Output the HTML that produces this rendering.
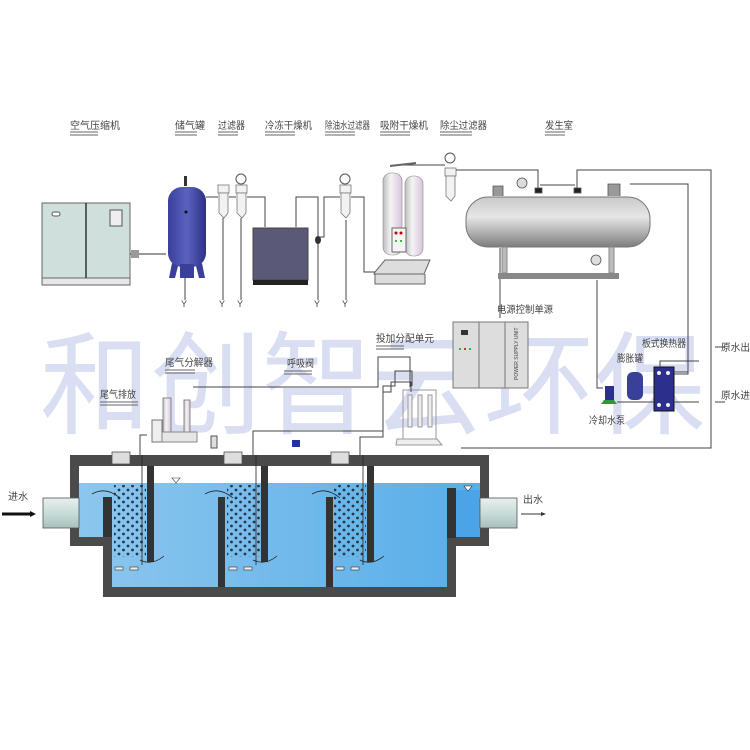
<!DOCTYPE html>
<html><head><meta charset="utf-8"><style>
html,body{margin:0;padding:0;background:#fff;}
svg{display:block;}
text{font-family:"Liberation Sans","Noto Sans CJK SC",sans-serif;fill:#444;}
</style></head><body>
<svg width="750" height="750" viewBox="0 0 750 750" xmlns="http://www.w3.org/2000/svg">
<defs>
<linearGradient id="tankg" x1="0" y1="0" x2="0" y2="1"><stop offset="0" stop-color="#c9c9c9"/><stop offset="0.4" stop-color="#e6e6e6"/><stop offset="1" stop-color="#7d7d7d"/></linearGradient>
<linearGradient id="blueT" x1="0" y1="0" x2="1" y2="0"><stop offset="0" stop-color="#3a3f9a"/><stop offset="0.5" stop-color="#5a62c0"/><stop offset="1" stop-color="#2d3180"/></linearGradient>
<linearGradient id="col" x1="0" y1="0" x2="1" y2="0"><stop offset="0" stop-color="#bdbdbd"/><stop offset="0.4" stop-color="#f4f4f4"/><stop offset="1" stop-color="#d8c4dc"/></linearGradient>
<linearGradient id="water" x1="0" y1="0" x2="1" y2="0"><stop offset="0" stop-color="#8cc6ee"/><stop offset="1" stop-color="#58aee8"/></linearGradient>
<linearGradient id="pipe" x1="0" y1="0" x2="0" y2="1"><stop offset="0" stop-color="#e8f0ee"/><stop offset="0.5" stop-color="#c8dcd8"/><stop offset="1" stop-color="#a8c0bc"/></linearGradient>
<pattern id="bub" width="9" height="8" patternUnits="userSpaceOnUse"><circle cx="2" cy="2" r="1.4" fill="#24364a"/><circle cx="6.5" cy="6" r="1.4" fill="#24364a"/></pattern>
</defs>

<text x="40" y="425" font-size="112" style="fill:#d9def2" textLength="665" lengthAdjust="spacingAndGlyphs">和创智云环保</text>

<g font-size="10">
<text x="70" y="129" textLength="50" lengthAdjust="spacingAndGlyphs">空气压缩机</text>
<text x="175" y="129" textLength="30" lengthAdjust="spacingAndGlyphs">储气罐</text>
<text x="218" y="129" textLength="27" lengthAdjust="spacingAndGlyphs">过滤器</text>
<text x="265" y="129" textLength="47" lengthAdjust="spacingAndGlyphs">冷冻干燥机</text>
<text x="325" y="129" textLength="45" lengthAdjust="spacingAndGlyphs">除油水过滤器</text>
<text x="380" y="129" textLength="48" lengthAdjust="spacingAndGlyphs">吸附干燥机</text>
<text x="440" y="129" textLength="47" lengthAdjust="spacingAndGlyphs">除尘过滤器</text>
<text x="545" y="129" textLength="28" lengthAdjust="spacingAndGlyphs">发生室</text>
</g>
<g stroke="#666" stroke-width="1">
<path d="M70 132h28M70 135h28M175 132h22M175 135h22M218 132h20M218 135h20M265 132h30M265 135h30M325 132h30M325 135h30M380 132h30M380 135h30M440 132h32M440 135h32M545 132h20M545 135h20"/>
</g>

<rect x="42" y="203" width="88" height="75" fill="#cfe0dc" stroke="#666"/>
<rect x="42" y="278" width="88" height="7" fill="#e6e6e6" stroke="#666"/>
<line x1="86" y1="203" x2="86" y2="278" stroke="#333" stroke-width="1.5"/>
<rect x="52" y="212" width="8" height="4" rx="2" fill="#fff" stroke="#555"/>
<rect x="110" y="210" width="12" height="16" fill="#eee" stroke="#555"/>
<path d="M130 254h36" stroke="#333"/><rect x="131" y="250" width="8" height="8" fill="#999"/>

<rect x="168" y="187" width="38" height="80" rx="14" fill="url(#blueT)"/>
<path d="M172 263l-3 15h6l3-12M202 263l3 15h-6l-3-12M180 264h14v14h-14z" fill="#3a3f9a"/>
<rect x="184" y="176" width="3" height="10" fill="#333"/>
<circle cx="186" cy="212" r="1.5" fill="#111"/>

<g fill="#f2f2f2" stroke="#777" stroke-width="0.8">
<rect x="218" y="185" width="11" height="8"/><path d="M219 193h9v20l-4 5l-5-5z"/>
<rect x="236" y="185" width="11" height="8"/><path d="M237 193h9v20l-4 5l-5-5z"/>
<rect x="340" y="185" width="11" height="8"/><path d="M341 193h9v20l-4 5l-5-5z"/>
<rect x="445" y="168" width="11" height="8"/><path d="M446 176h9v20l-4 5l-5-5z"/>
</g>
<g fill="#fff" stroke="#555"><circle cx="241" cy="179" r="5"/><circle cx="345" cy="179" r="5"/><circle cx="450" cy="158" r="5"/></g>
<g stroke="#444" fill="none" stroke-width="1">
<path d="M206 197h12M229 197h7M247 197h18v30M296 227v-30h22v40h6v-40h16M351 197h13v75h20"/>
<path d="M185 278v22M223 218v82M241 218v82M318 232v68M346 220v80"/>
<path d="M400 165h45M456 170h82v22M540 185h35M577 192v-22h134v278h-250M630 184h58v190h-14"/>
<path d="M500 248v70M597 280v108h6"/>
</g>
<g font-size="9" fill="#444"><text x="181" y="307">Y</text><text x="219" y="307">Y</text><text x="237" y="307">Y</text><text x="314" y="307">Y</text><text x="342" y="307">Y</text></g>
<rect x="253" y="228" width="55" height="52" fill="#5a5a78" stroke="#444"/>
<rect x="253" y="280" width="55" height="5" fill="#222"/>
<ellipse cx="318" cy="240" rx="3" ry="4" fill="#333"/>

<rect x="383" y="173" width="19" height="82" rx="8" fill="url(#col)" stroke="#888" stroke-width="0.6"/>
<rect x="405" y="176" width="18" height="80" rx="8" fill="url(#col)" stroke="#888" stroke-width="0.6"/>
<rect x="392" y="228" width="14" height="24" fill="#f4f4f4" stroke="#666"/>
<circle cx="396" cy="233" r="1.5" fill="#b00"/><circle cx="401" cy="233" r="1.5" fill="#b00"/><circle cx="396" cy="241" r="1" fill="#0a0"/><circle cx="401" cy="241" r="1" fill="#0a0"/>
<path d="M375 272l10-12h45l-6 14h-50zM375 274v10h50v-10" fill="#ddd" stroke="#666"/>
<path d="M390 166l26-3" stroke="#666" stroke-width="2"/>

<rect x="466" y="197" width="184" height="50" rx="22" fill="url(#tankg)" stroke="#777"/>
<rect x="498" y="273" width="121" height="6" fill="#888"/>
<rect x="502" y="247" width="5" height="26" fill="#bbb" stroke="#888"/>
<rect x="609" y="247" width="5" height="26" fill="#bbb" stroke="#888"/>
<g fill="#999" stroke="#555" stroke-width="0.8"><path d="M493 196v-10h10v10"/><circle cx="522" cy="183" r="5" fill="#ddd"/><rect x="535" y="188" width="7" height="5" fill="#222"/><rect x="574" y="188" width="7" height="5" fill="#222"/><path d="M608 196v-12h12v12"/><circle cx="596" cy="260" r="5" fill="#ddd"/></g>

<rect x="453" y="322" width="75" height="66" fill="#ddd" stroke="#777"/>
<path d="M479 322v66M505 322v66" stroke="#777"/>
<rect x="461" y="330" width="7" height="5" fill="#333"/>
<circle cx="460" cy="349" r="1" fill="#0a0"/><circle cx="465" cy="349" r="1" fill="#b00"/><circle cx="470" cy="349" r="1" fill="#0a0"/>
<text x="0" y="0" font-size="5" transform="translate(518,380) rotate(-90)">POWER SUPPLY UNIT</text>
<text x="497" y="313" font-size="10" textLength="56" lengthAdjust="spacingAndGlyphs">电源控制单源</text>

<rect x="654" y="367" width="20" height="44" fill="#2c2f8c" stroke="#111"/>
<g fill="#eee"><circle cx="659" cy="373" r="2"/><circle cx="668" cy="373" r="2"/><circle cx="659" cy="405" r="2"/><circle cx="668" cy="405" r="2"/></g>
<rect x="627" y="372" width="16" height="28" rx="6" fill="#3a3f9a"/>
<rect x="605" y="386" width="9" height="14" fill="#2c2f8c"/><path d="M601 404h16l-3-4h-10z" fill="#2a9a3a"/>
<g stroke="#444" fill="none"><path d="M617 402h37M674 402h25M715 402h10M674 372h14M660 367v-6h39M715 347h10"/><path d="M688 374v-6"/></g>
<text x="642" y="347" font-size="10" textLength="44" lengthAdjust="spacingAndGlyphs">板式换热器</text>
<text x="617" y="362" font-size="10" textLength="26" lengthAdjust="spacingAndGlyphs">膨胀罐</text>
<text x="589" y="424" font-size="10" textLength="36" lengthAdjust="spacingAndGlyphs">冷却水泵</text>
<text x="721" y="351" font-size="10" textLength="29" lengthAdjust="spacingAndGlyphs">原水出</text>
<text x="721" y="399" font-size="10" textLength="29" lengthAdjust="spacingAndGlyphs">原水进</text>

<text x="376" y="342" font-size="10" textLength="58" lengthAdjust="spacingAndGlyphs">投加分配单元</text>
<path d="M376 346h28M376 349h28" stroke="#666"/>
<rect x="403" y="390" width="33" height="50" fill="none" stroke="#999"/>
<g stroke="#999" fill="#eee"><rect x="408" y="395" width="4" height="32"/><rect x="418" y="395" width="4" height="32"/><rect x="428" y="395" width="4" height="32"/></g>
<path d="M396 445h46l-5-6h-40z" fill="#eee" stroke="#999"/>
<g stroke="#444" fill="none">
<path d="M193 387h185v-30h32v30M253 455v-24h130v-45h12v-15h17v15M360 455v-18h23v-45h8v-10h20v10"/>
<path d="M140 455v-20h7"/>
</g>

<text x="165" y="366" font-size="10" textLength="48" lengthAdjust="spacingAndGlyphs">尾气分解器</text>
<path d="M165 370h30M165 373h30" stroke="#666"/>
<text x="100" y="398" font-size="10" textLength="36" lengthAdjust="spacingAndGlyphs">尾气排放</text>
<path d="M100 402h38M100 405h38" stroke="#666"/>
<text x="287" y="367" font-size="10" textLength="27" lengthAdjust="spacingAndGlyphs">呼吸阀</text>
<path d="M284 371h28M284 374h28" stroke="#666"/>
<rect x="163" y="398" width="8" height="38" fill="url(#col)" stroke="#888"/>
<rect x="184" y="400" width="6" height="34" fill="url(#col)" stroke="#888"/>
<rect x="152" y="420" width="10" height="22" fill="#eee" stroke="#777"/>
<path d="M162 432h35v10h-35z" fill="#e6e6e6" stroke="#888"/>
<rect x="211" y="436" width="6" height="12" fill="#ddd" stroke="#555"/>
<rect x="292" y="440" width="8" height="7" fill="#2233aa"/>

<path d="M70 455H489V546H456V597H103V546H70Z" fill="#4a4a4a"/>
<rect x="79" y="466" width="401" height="17" fill="#fff"/>
<path d="M79 483H480V537H447V587H112V537H79Z" fill="url(#water)"/>
<rect x="456" y="490" width="24" height="47" fill="#4aa4e6"/>
<path d="M103 497h9v40h-9z" fill="#333"/>
<rect x="447" y="488" width="9" height="50" fill="#333"/>
<rect x="147" y="466" width="7" height="96" fill="#333"/>
<rect x="261" y="466" width="7" height="96" fill="#333"/>
<rect x="367" y="466" width="7" height="96" fill="#333"/>
<rect x="218" y="497" width="7" height="90" fill="#333"/>
<rect x="326" y="497" width="7" height="90" fill="#333"/>
<rect x="114" y="485" width="32" height="72" fill="url(#bub)"/>
<rect x="227" y="485" width="33" height="72" fill="url(#bub)"/>
<rect x="334" y="485" width="32" height="72" fill="url(#bub)"/>
<g fill="#eee" stroke="#333" stroke-width="0.6">
<rect x="115" y="567" width="8" height="3"/><rect x="130" y="567" width="8" height="3"/>
<rect x="229" y="567" width="8" height="3"/><rect x="244" y="567" width="8" height="3"/>
<rect x="336" y="567" width="8" height="3"/><rect x="351" y="567" width="8" height="3"/>
</g>
<g stroke="#222" fill="none" stroke-width="0.8">
<path d="M92 494q14-8 28 4M205 494q14-8 28 4M312 494q14-8 28 4M140 560q12 6 24-4M253 560q12 6 24-4M360 560q12 6 24-4"/>
<path d="M142 455v110M256 455v110M363 455v110"/>
</g>
<path d="M172 478h8l-4 5z" fill="#fff" stroke="#333" stroke-width="0.6"/>
<path d="M464 486h8l-4 5z" fill="#fff" stroke="#333" stroke-width="0.6"/>
<g fill="#ddd" stroke="#555" stroke-width="0.8">
<rect x="112" y="452" width="18" height="12"/><rect x="224" y="452" width="18" height="12"/><rect x="331" y="452" width="18" height="12"/>
</g>
<rect x="43" y="498" width="36" height="30" fill="url(#pipe)" stroke="#555" stroke-width="0.8"/>
<rect x="480" y="498" width="37" height="30" fill="url(#pipe)" stroke="#555" stroke-width="0.8"/>
<text x="8" y="500" font-size="10">进水</text>
<text x="523" y="503" font-size="10">出水</text>
<path d="M2 514h28" stroke="#111" stroke-width="3"/><path d="M30 511l6 3l-6 3z" fill="#111"/>
<path d="M521 514h20" stroke="#333"/><path d="M541 512l5 2l-5 2z" fill="#333"/>
</svg>
</body></html>
